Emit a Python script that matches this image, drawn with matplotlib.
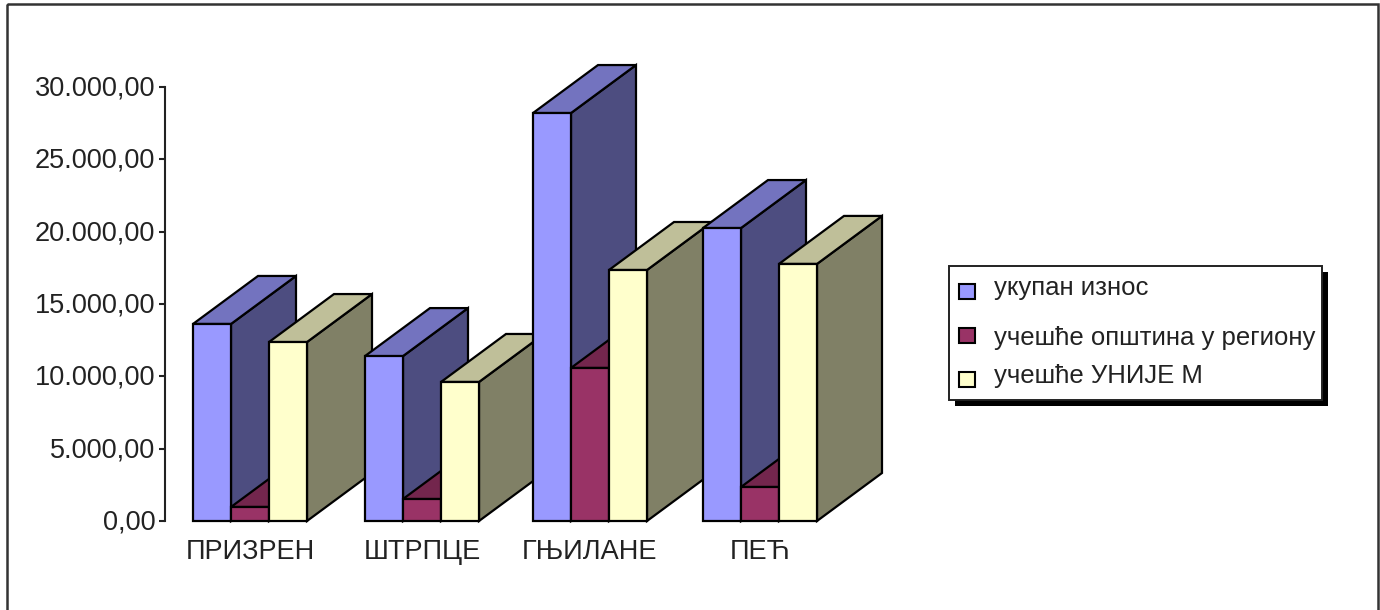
import numpy as np
import matplotlib
matplotlib.use('Agg')
import matplotlib.pyplot as plt
from matplotlib.patches import Polygon, Rectangle
from matplotlib.transforms import ScaledTranslation

plt.rcParams['font.family'] = ['Liberation Sans', 'DejaVu Sans']

# iznosi po opštinama
opstine = ['ПРИЗРЕН', 'ШТРПЦЕ', 'ГЊИЛАНЕ', 'ПЕЋ']
ukupan_iznos = [13620, 11400, 28200, 20250]
ucesce_opstina = [970, 1520, 10580, 2350]
ucesce_unije = [12370, 9610, 17350, 17770]
y_ticks = [0, 5000, 10000, 15000, 20000, 25000, 30000]
legenda = ['укупан износ', 'учешће општина у региону', 'учешће УНИЈЕ М']

# boje: prednja strana, gornja strana, bočna strana
boje = [('#9999FF', '#7373BF', '#4D4D80'),
        ('#993366', '#73264D', '#4D1A33'),
        ('#FFFFCC', '#BFBF99', '#808066')]
serije = [ukupan_iznos, ucesce_opstina, ucesce_unije]

W, H = 1380, 610
fig = plt.figure(figsize=(W / 100, H / 100), dpi=100, facecolor='white')

# pravougaonik osa u pikselima
left, right, top, bottom = 165, 925, 87, 521
ax = fig.add_axes([left / W, 1 - bottom / H, (right - left) / W, (bottom - top) / H])
ax.patch.set_alpha(0)

# x osa je u pikselima od leve ivice prve grupe
ax.set_xlim(-28, right - left - 28)
ax.set_ylim(0, 30000)

grupe_x = np.array([0, 172, 340, 510])
sirina = 38
dx = 65
dy = 48 / (bottom - top) * 30000

linija = dict(edgecolor='black', linewidth=1.6, joinstyle='miter', clip_on=False)
z = 3
for g in range(len(opstine)):
    for s, vrednosti in enumerate(serije):
        x0 = grupe_x[g] + s * sirina
        x1 = x0 + sirina
        v = vrednosti[g]
        prednja, gornja, bocna = boje[s]
        ax.add_patch(Polygon([(x1, 0), (x1 + dx, dy), (x1 + dx, v + dy), (x1, v)],
                             facecolor=bocna, zorder=z, **linija))
        ax.add_patch(Polygon([(x0, v), (x0 + dx, v + dy), (x1 + dx, v + dy), (x1, v)],
                             facecolor=gornja, zorder=z, **linija))
        ax.bar(x0, v, sirina, align='edge', facecolor=prednja, zorder=z + 0.5, **linija)
        z += 1

for strana in ['top', 'right', 'bottom']:
    ax.spines[strana].set_visible(False)
ax.spines['left'].set_color('#222222')
ax.spines['left'].set_linewidth(1.5)

ax.set_yticks(y_ticks)
ax.set_yticklabels([f'{t:,.2f}'.replace(',', ' ').replace('.', ',').replace(' ', '.') for t in y_ticks],
                   fontsize=19.5, color='#222222')
ax.tick_params(axis='y', length=4, width=1.5, color='#222222', pad=3)
pomak = ScaledTranslation(0, 1.5 / 100, fig.dpi_scale_trans)
for lab in ax.get_yticklabels():
    lab.set_transform(lab.get_transform() + pomak)

ax.set_xticks(grupe_x + 1.5 * sirina)
ax.set_xticklabels(opstine, fontsize=19.5, color='#222222')
ax.tick_params(axis='x', length=0, pad=13)

# okvir i legenda crtaju se u pikselima slike
ov = fig.add_axes([0, 0, 1, 1], zorder=10)
ov.set_xlim(0, W)
ov.set_ylim(H, 0)
ov.axis('off')
ov.patch.set_alpha(0)

# donja ivica okvira ostaje van slike
ov.add_patch(Rectangle((7, 4), 1371, 620, facecolor='none', edgecolor='#333333', linewidth=1.8))
ov.add_patch(Rectangle((955, 272), 373, 134, facecolor='black', edgecolor='black', linewidth=0))
ov.add_patch(Rectangle((949, 266), 373, 134, facecolor='white', edgecolor='#222222', linewidth=1.4))
for (prednja, _, _), tekst, y_k, y_t in zip(boje, legenda, [284, 328, 372], [288, 338, 376]):
    ov.add_patch(Rectangle((959, y_k), 16, 15, facecolor=prednja, edgecolor='black', linewidth=1.5))
    ov.text(994, y_t, tekst, fontsize=18.5, color='#222222', va='center', ha='left')

fig.savefig('out.png', dpi=100)
